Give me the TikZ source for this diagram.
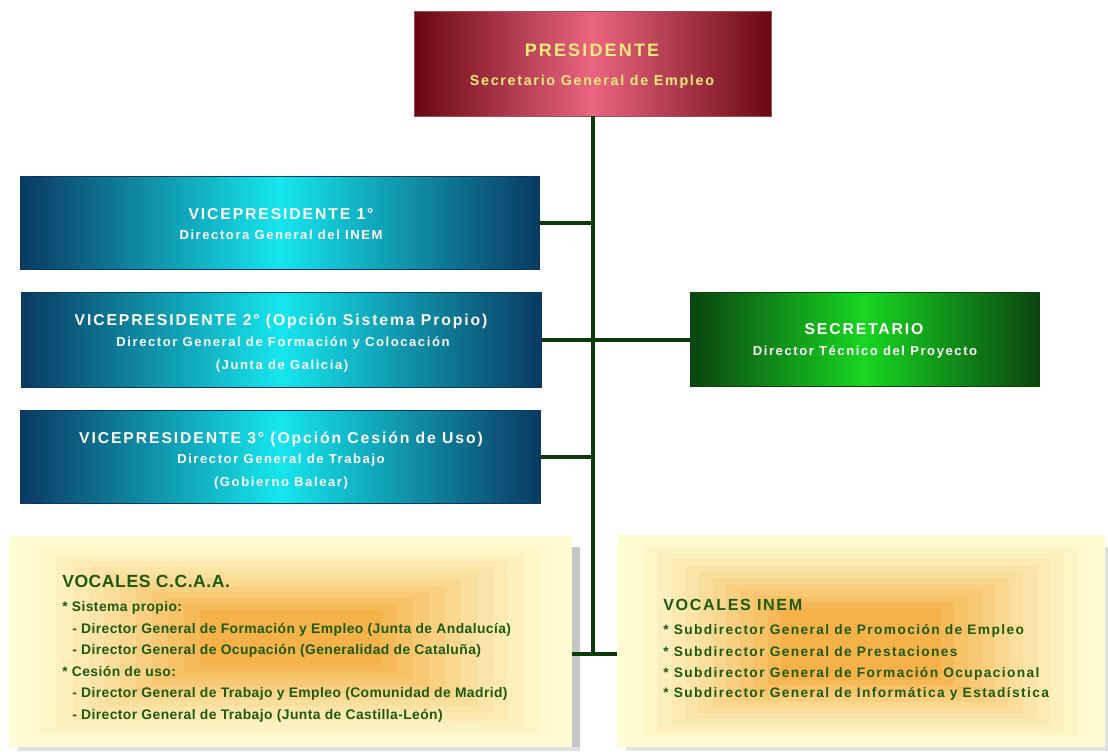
\documentclass[tikz,border=0pt]{standalone}
\usepackage{fontspec}
\setmainfont{Liberation Sans}
\newfontfamily\fBox{Liberation Sans}[LetterSpace=12]
\newfontfamily\fVL{Liberation Sans}[LetterSpace=3]
\newfontfamily\fVR{Liberation Sans}[LetterSpace=10]
\definecolor{presE}{HTML}{6A0812}
\definecolor{presM}{HTML}{EA6580}
\definecolor{presT}{HTML}{F3EC7A}
\definecolor{vpE}{HTML}{0A3A62}
\definecolor{vpM}{HTML}{16E6EE}
\definecolor{secE}{HTML}{0A4510}
\definecolor{secM}{HTML}{18D622}
\definecolor{conn}{HTML}{0B3A0B}
\definecolor{vocO}{HTML}{FFFCD4}
\definecolor{vocI}{HTML}{F4B248}
\definecolor{vocT}{HTML}{1C5A10}
\begin{document}
\begin{tikzpicture}[x=0.75pt,y=-0.75pt,
  presbox/.style={inner sep=0,outer sep=0,draw=presE!70,line width=0.4pt,
    left color=presE,right color=presE,middle color=presM},
  vpbox/.style={inner sep=0,outer sep=0,draw=vpE,line width=0.4pt,
    left color=vpE,right color=vpE,middle color=vpM},
  secbox/.style={inner sep=0,outer sep=0,draw=secE,line width=0.4pt,
    left color=secE,right color=secE,middle color=secM},
  vocbox/.style={inner sep=0,outer sep=0},
  txt/.style={inner sep=0,text height=0.75em,text depth=0.25em,font=\fBox\bfseries},
  bigpres/.style={txt,text=presT,font=\fBox\bfseries\fontsize{13.5}{15}\selectfont},
  subpres/.style={txt,text=presT,font=\fBox\bfseries\fontsize{10.7}{12}\selectfont},
  bighead/.style={txt,text=white,font=\fBox\bfseries\fontsize{11.8}{13}\selectfont},
  subhead/.style={txt,text=white,font=\fBox\bfseries\fontsize{9.8}{11}\selectfont},
  vlhead/.style={txt,anchor=west,text=vocT,font=\fVL\bfseries\fontsize{13.2}{15}\selectfont},
  vlline/.style={txt,anchor=west,text=vocT,font=\fVL\bfseries\fontsize{10.4}{12}\selectfont},
  vrhead/.style={txt,anchor=west,text=vocT,font=\fVR\bfseries\fontsize{12.1}{14}\selectfont},
  vrline/.style={txt,anchor=west,text=vocT,font=\fVR\bfseries\fontsize{10.3}{12}\selectfont},
  connline/.style={draw=conn,line width=3pt}]
\useasboundingbox (0,0) rectangle (1108,751);
\fill[white] (0,0) rectangle (1108,751);

% shadows of the vocales boxes
\fill[gray!45] (572,547) rectangle (580,751);
\fill[gray!25] (18,747) rectangle (580,751);
\fill[gray!20] (626,747) rectangle (1108,751);
\fill[gray!25] (1105,547) rectangle (1108,751);

% concentric backgrounds of the vocales boxes
\foreach \i in {0,...,12}{
  \pgfmathsetmacro\p{100*(\i/12)^1.3}
  \fill[vocI!\p!vocO] ({9+15.9*\i},{536+6.2*\i}) rectangle ({572-15.9*\i},{747-6.8*\i});
  \fill[vocI!\p!vocO] ({617+13.7*\i},{535+6.1*\i}) rectangle ({1105-13.7*\i},{747-5.6*\i});
}
\node[vocbox,minimum width=563*0.75pt,minimum height=211*0.75pt] (vocL) at (290.5,641.5) {};
\node[vocbox,minimum width=488*0.75pt,minimum height=212*0.75pt] (vocR) at (861,641) {};

% boxes
\node[presbox,minimum width=357*0.75pt,minimum height=105*0.75pt] (pres) at (593,63.5) {};
\node[vpbox,minimum width=519*0.75pt,minimum height=93*0.75pt] (vp1) at (279.5,222.5) {};
\node[vpbox,minimum width=520*0.75pt,minimum height=95*0.75pt] (vp2) at (281,339.5) {};
\node[vpbox,minimum width=520*0.75pt,minimum height=93*0.75pt] (vp3) at (280,456.5) {};
\node[secbox,minimum width=349*0.75pt,minimum height=94*0.75pt] (sec) at (864.5,339.5) {};

% connectors
\coordinate (j) at (593,654);
\draw[connline] (pres.south) -- (j);
\draw[connline] (vp1.east) -- (vp1.east -| j);
\draw[connline] (vp2.east) -- (sec.west);
\draw[connline] (vp3.east) -- (vp3.east -| j);
\draw[connline] (vocL.east |- j) -- (vocR.west |- j);

% texts
\node[bigpres] (t1) at (592,53) {PRESIDENTE};
\node[subpres] (t2) at (592,82) {Secretario General de Empleo};

\node[bighead] (t3) at (281,216) {VICEPRESIDENTE 1°};
\node[subhead] (t4) at (281,236) {Directora General del INEM};

\node[bighead] (t5) at (281,322) {VICEPRESIDENTE 2° (Opción Sistema Propio)};
\node[subhead] (t6) at (283,343) {Director General de Formación y Colocación};
\node[subhead] (t7) at (282,366) {(Junta de Galicia)};

\node[bighead] (t8) at (281,440) {VICEPRESIDENTE 3° (Opción Cesión de Uso)};
\node[subhead] (t9) at (281,460) {Director General de Trabajo};
\node[subhead] (t10) at (281,483) {(Gobierno Balear)};

\node[bighead] (t11) at (864,331) {SECRETARIO};
\node[subhead] (t12) at (865,352) {Director Técnico del Proyecto};

\node[vlhead] (l1) at (62,584) {VOCALES C.C.A.A.};
\node[vlline] (l2) at (62,608) {* Sistema propio:};
\node[vlline] (l3) at (72,630) {- Director General de Formación y Empleo (Junta de Andalucía)};
\node[vlline] (l4) at (72,651) {- Director General de Ocupación (Generalidad de Cataluña)};
\node[vlline] (l5) at (62,673) {* Cesión de uso:};
\node[vlline] (l6) at (72,694) {- Director General de Trabajo y Empleo (Comunidad de Madrid)};
\node[vlline] (l7) at (72,716) {- Director General de Trabajo (Junta de Castilla-León)};

\node[vrhead] (r1) at (663,607) {VOCALES INEM};
\node[vrline] (r2) at (663,631) {* Subdirector General de Promoción de Empleo};
\node[vrline] (r3) at (663,653) {* Subdirector General de Prestaciones};
\node[vrline] (r4) at (663,674) {* Subdirector General de Formación Ocupacional};
\node[vrline] (r5) at (663,694) {* Subdirector General de Informática y Estadística};
\end{tikzpicture}
\end{document}
